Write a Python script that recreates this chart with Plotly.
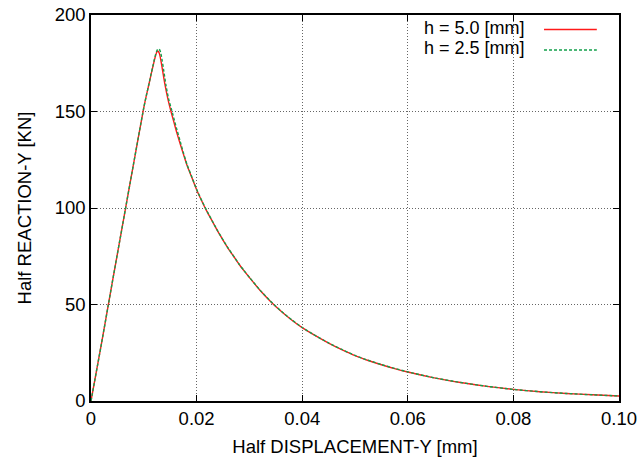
import plotly.graph_objects as go

# Half displacement [mm] vs half reaction [KN] for two mesh sizes
disp_h50 = [0.0, 0.002, 0.004, 0.006, 0.008, 0.010, 0.0105, 0.011, 0.0114, 0.0117,
            0.0120, 0.0122, 0.0124, 0.0126, 0.0128, 0.0130, 0.0133, 0.0136, 0.0140,
            0.0146, 0.0152, 0.0157, 0.0162, 0.0168, 0.0175, 0.0182, 0.019, 0.020,
            0.021, 0.022, 0.023, 0.024, 0.025, 0.026, 0.027, 0.028, 0.029, 0.030,
            0.032, 0.034, 0.036, 0.038, 0.040, 0.042, 0.045, 0.0475, 0.050, 0.0525,
            0.055, 0.0575, 0.060, 0.065, 0.070, 0.075, 0.080, 0.085, 0.090, 0.095, 0.100]
react_h50 = [0.0, 30.0, 61.0, 91.5, 122.0, 152.0, 158.5, 164.5, 169.5, 173.0,
             176.5, 178.6, 180.4, 181.3, 181.0, 179.6, 175.5, 170.5, 164.0,
             156.0, 149.5, 144.5, 139.5, 134.0, 128.0, 122.0, 116.5, 109.5,
             103.5, 98.0, 93.0, 88.0, 83.4, 79.0, 75.0, 71.0, 67.4, 64.0,
             57.4, 51.6, 46.5, 42.0, 38.0, 34.6, 30.0, 26.6, 23.5, 21.0,
             18.8, 16.8, 15.0, 12.0, 9.6, 7.6, 6.0, 4.8, 3.9, 3.2, 2.6]

disp_h25 = [0.0, 0.002, 0.004, 0.006, 0.008, 0.010, 0.0105, 0.011, 0.0114, 0.0117,
            0.0120, 0.0122, 0.0124, 0.0126, 0.0128, 0.0130, 0.0132, 0.0135, 0.0138,
            0.0142, 0.0147, 0.0153, 0.0158, 0.0163, 0.0169, 0.0175, 0.0182, 0.019,
            0.020, 0.021, 0.022, 0.023, 0.024, 0.025, 0.026, 0.027, 0.028, 0.029,
            0.030, 0.032, 0.034, 0.036, 0.038, 0.040, 0.042, 0.045, 0.0475, 0.050,
            0.0525, 0.055, 0.0575, 0.060, 0.065, 0.070, 0.075, 0.080, 0.085, 0.090,
            0.095, 0.100]
react_h25 = [0.0, 30.0, 61.0, 91.5, 122.0, 152.0, 158.5, 164.5, 169.7, 173.3,
             177.0, 179.2, 181.0, 182.1, 182.5, 182.0, 180.5, 176.0, 170.8,
             163.5, 156.5, 150.5, 145.3, 140.3, 134.5, 128.6, 122.4, 116.8,
             109.7, 103.7, 98.2, 93.1, 88.1, 83.5, 79.1, 75.1, 71.1, 67.5,
             64.1, 57.5, 51.7, 46.6, 42.1, 38.1, 34.7, 30.1, 26.7, 23.6,
             21.1, 18.9, 16.9, 15.1, 12.0, 9.6, 7.6, 6.0, 4.8, 3.9,
             3.2, 2.6]

series_names = ["h = 5.0 [mm]", "h = 2.5 [mm]"]
x_tick_vals = [0, 0.02, 0.04, 0.06, 0.08, 0.10]
x_tick_text = ["0", "0.02", "0.04", "0.06", "0.08", "0.10"]
y_tick_vals = [0, 50, 100, 150, 200]
y_tick_text = ["0", "50", "100", "150", "200"]

RED = "#ff1a1a"
GREEN = "#11a04a"
FONT = "Liberation Sans, Arial, Helvetica, sans-serif"
FSIZE = 18.5
KEY_FSIZE = 18

fig = go.Figure()
fig.add_trace(go.Scatter(x=disp_h50, y=react_h50, mode="lines", name=series_names[0],
                         line=dict(color=RED, width=1.4, shape="spline", smoothing=0.6),
                         showlegend=False))
fig.add_trace(go.Scatter(x=disp_h25, y=react_h25, mode="lines", name=series_names[1],
                         line=dict(color=GREEN, width=1.4, dash="3px,2px",
                                   shape="spline", smoothing=0.6),
                         showlegend=False))

axis_common = dict(
    showline=True, linecolor="black", linewidth=1.5, mirror="allticks",
    ticks="inside", ticklen=6, tickwidth=1, tickcolor="black",
    showgrid=True, gridcolor="#666666", gridwidth=1, griddash="1px,2px",
    zeroline=False, automargin=False,
    tickfont=dict(size=FSIZE, color="black", family=FONT),
)

fig.update_xaxes(range=[0, 0.1], tickvals=x_tick_vals, ticktext=x_tick_text,
                 title=dict(text="Half DISPLACEMENT-Y [mm]", standoff=12,
                            font=dict(size=FSIZE, color="black", family=FONT)),
                 **axis_common)
fig.update_yaxes(range=[0, 200], tickvals=y_tick_vals, ticktext=y_tick_text,
                 title=dict(text="Half REACTION-Y [KN]", standoff=18,
                            font=dict(size=FSIZE, color="black", family=FONT)),
                 **axis_common)

# Key in the upper right: label text followed by a line sample
key_rows = [(0.9624, RED, "solid"), (0.9093, GREEN, "3px,2px")]
for name, (ky, color, dash) in zip(series_names, key_rows):
    fig.add_annotation(xref="paper", yref="paper", x=0.826, y=ky + 0.004, text=name,
                       showarrow=False, xanchor="right", yanchor="middle",
                       font=dict(size=KEY_FSIZE, color="black", family=FONT))
    fig.add_shape(type="line", xref="paper", yref="paper", x0=0.858, x1=0.958,
                  y0=ky, y1=ky, line=dict(color=color, width=1.4, dash=dash))

fig.update_layout(
    width=642, height=457,
    margin=dict(l=91, r=23, t=15, b=56),
    paper_bgcolor="white", plot_bgcolor="white",
    font=dict(family=FONT, size=FSIZE, color="black"),
)

fig.write_html("out.html")
